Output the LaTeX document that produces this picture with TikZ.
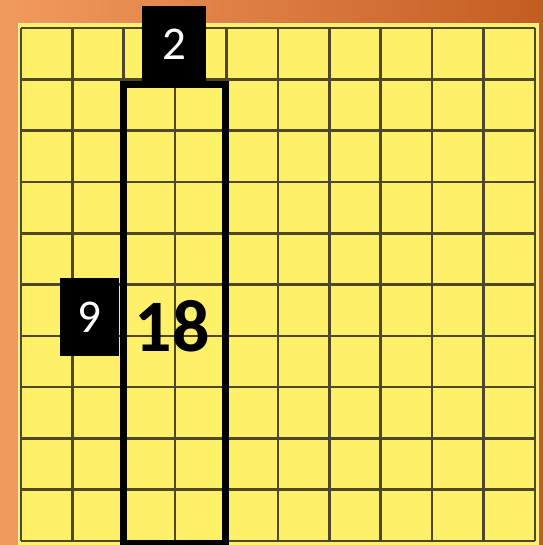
\documentclass[tikz,border=0pt]{standalone}
\usepackage{fontspec}
\setmainfont[Numbers=Lining]{Carlito}
\definecolor{bgL}{RGB}{242,155,95}
\definecolor{bgR}{RGB}{196,92,34}
\definecolor{gridfill}{RGB}{255,240,106}
\definecolor{gridline}{RGB}{78,72,40}
\begin{document}
\begin{tikzpicture}[x=1pt,y=-1pt,
  labelbox/.style={fill=black,text=white,inner sep=0pt,font=\fontsize{47}{47}\selectfont},
  bigtext/.style={font=\fontsize{74}{74}\selectfont\bfseries,inner sep=0pt},
  gridstroke/.style={draw=gridline,line width=2.6pt},
  area/.style={draw=black,line width=7pt}]
\useasboundingbox (0,0) rectangle (543,545);
\shade[shading=axis,shading angle=-60,left color=bgL,right color=bgR] (0,0) rectangle (543,545);
\fill[gridfill,draw=gridfill!70!white,line width=1pt] (18,24) rectangle (538,548);
% grid
\foreach \i in {0,...,10} {
  \draw[gridstroke] ({20.8+\i*51.42},28) -- ({20.8+\i*51.42},541);
  \draw[gridstroke] (20.8,{28+\i*51.3}) -- (535,{28+\i*51.3});
}
% highlighted area
\draw[area] (123,85) rectangle (225,543);
\node[labelbox,minimum width=64pt,minimum height=76pt] (top) at (174,44) {2};
\node[labelbox,minimum width=59pt,minimum height=78pt] (left) at (89.5,317) {9};
\node[bigtext] (prod) at (172,326) {18};
\end{tikzpicture}
\end{document}
